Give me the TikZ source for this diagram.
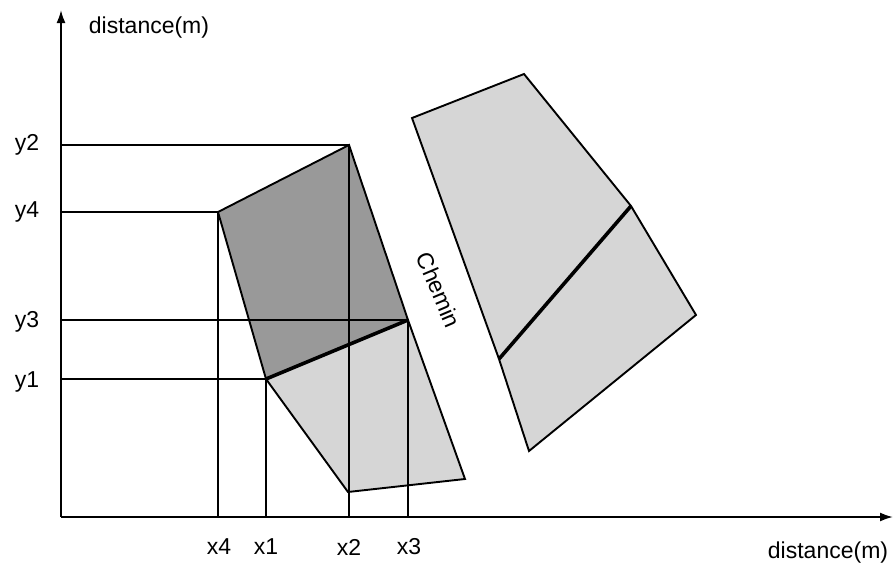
\documentclass[tikz,border=0pt]{standalone}
\usepackage{fontspec}
\setmainfont{Liberation Sans}
\usetikzlibrary{arrows.meta}
\begin{document}
\begin{tikzpicture}[x=1pt,y=-1pt,
  thinline/.style={line width=1.9pt, line join=miter},
  thickline/.style={line width=3.6pt},
  axisline/.style={line width=1.9pt, -{Latex[length=13pt,width=9pt]}},
  lab/.style={font=\fontsize{23}{23}\selectfont, inner sep=0pt},
  darkfill/.style={fill=black!40},
  lightfill/.style={fill=black!16}]
\useasboundingbox (0,0) rectangle (896,571);
% axes
\coordinate (O) at (61,517);
\coordinate (Ytop) at (61,10);
\coordinate (Xend) at (893,517);
% parcel points
\coordinate (P1) at (266,379);
\coordinate (P2) at (349,145);
\coordinate (P3) at (408,320);
\coordinate (P4) at (218,212);
\coordinate (B1) at (465,479);
\coordinate (B2) at (348,492);
% right parcel
\coordinate (R1) at (412,118);
\coordinate (R2) at (524,74);
\coordinate (R3) at (631,206);
\coordinate (R4) at (696,315);
\coordinate (R5) at (529,451);
\coordinate (R6) at (499,359);
% fills
\fill[darkfill] (P4) -- (P2) -- (P3) -- (P1) -- cycle;
\fill[lightfill] (P1) -- (P3) -- (B1) -- (B2) -- cycle;
\fill[lightfill] (R1) -- (R2) -- (R3) -- (R4) -- (R5) -- (R6) -- cycle;
% projection lines
\draw[thinline] (P2 -| O) -- (P2) -- (P2 |- O);
\draw[thinline] (P4 -| O) -- (P4) -- (P4 |- O);
\draw[thinline] (P3 -| O) -- (P3) -- (P3 |- O);
\draw[thinline] (P1 -| O) -- (P1) -- (P1 |- O);
% outlines
\draw[thinline] (P1) -- (P4) -- (P2) -- (P3) -- (B1) -- (B2) -- cycle;
\draw[thickline] (P1) -- (P3);
\draw[thinline] (R1) -- (R2) -- (R3) -- (R4) -- (R5) -- (R6) -- cycle;
\draw[thickline] (R6) -- (R3);
% axes
\draw[axisline] (O) -- (Ytop);
\draw[axisline] (O) -- (Xend);
% labels
\node[lab] (ylab) at (149,28) {distance(m)};
\node[lab] (xlab) at (828,553) {distance(m)};
\node[lab] (ly2) at (27,145) {y2};
\node[lab] (ly4) at (27,212) {y4};
\node[lab] (ly3) at (27,322) {y3};
\node[lab] (ly1) at (27,382) {y1};
\node[lab] (lx4) at (219,547) {x4};
\node[lab] (lx1) at (266,547) {x1};
\node[lab] (lx2) at (349,547) {x2};
\node[lab] (lx3) at (409,547) {x3};
\node[lab, rotate=-67] (chemin) at (439,290) {Chemin};
\end{tikzpicture}
\end{document}
